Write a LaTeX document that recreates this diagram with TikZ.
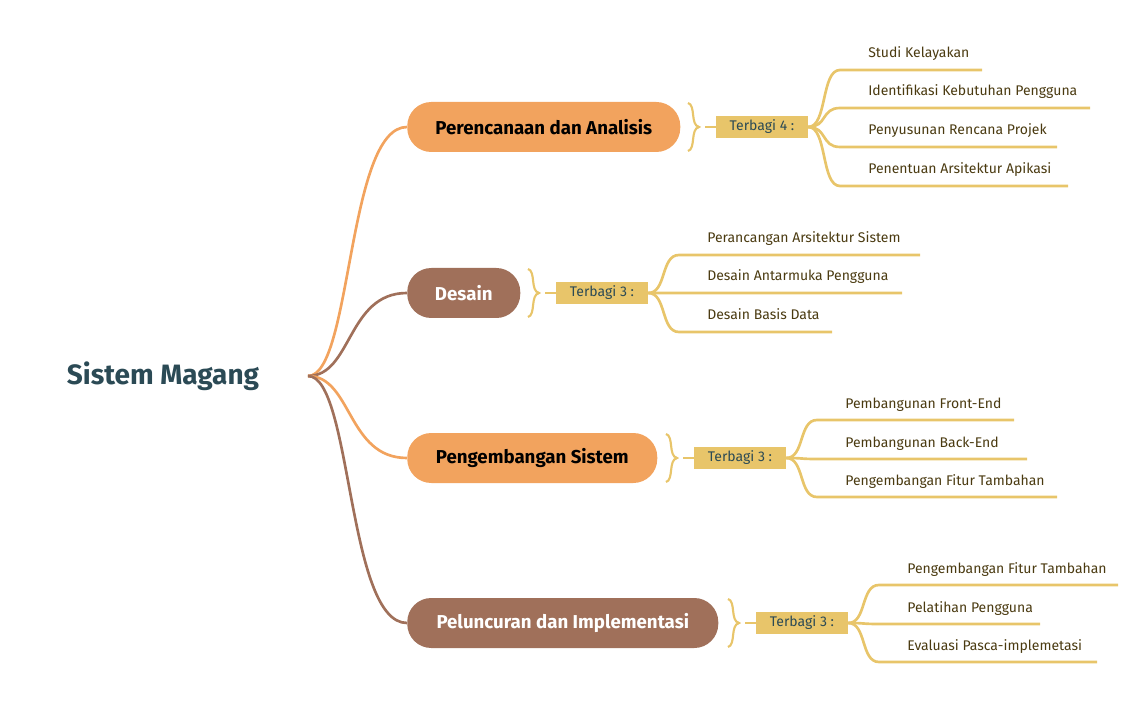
\documentclass[tikz,border=0pt]{standalone}
\usepackage{fontspec}
\setmainfont{Fira Sans}
\usetikzlibrary{calc}
\definecolor{org}{HTML}{F2A35E}
\definecolor{brn}{HTML}{A0705A}
\definecolor{yel}{HTML}{E8C56A}
\definecolor{teal}{HTML}{2B4A55}
\definecolor{leaf}{HTML}{4A3A10}
\begin{document}
\begin{tikzpicture}[x=0.75pt,y=-0.75pt,
 main/.style={rectangle,rounded corners=18pt,minimum height=37.5pt,anchor=west,align=left,font=\bfseries\fontsize{14}{16}\selectfont},
 lab/.style={fill=yel,minimum width=69pt,minimum height=16.5pt,inner sep=0pt,text=teal,font=\fontsize{10.5}{12}\selectfont},
 leaftxt/.style={anchor=base west,text=leaf,inner sep=0pt,font=\fontsize{10.5}{12}\selectfont},
 lk/.style={draw=yel,line width=2pt},
 br/.style={line width=1.6pt}]
\useasboundingbox (0,0) rectangle (1135,702);
\node[text=teal,font=\bfseries\fontsize{21}{24}\selectfont] (root) at (163,376) {Sistem Magang};
\coordinate (r) at (308,376);
\node[main,fill=org,text=black,minimum width=204.75pt] (n1) at (407,127) {Perencanaan dan Analisis};
\node[main,fill=brn,text=white,minimum width=84.75pt] (n2) at (407,293) {Desain};
\node[main,fill=org,text=black,minimum width=187.5pt] (n3) at (407,458) {Pengembangan Sistem};
\node[main,fill=brn,text=white,minimum width=233.25pt] (n4) at (407,623) {Peluncuran dan Implementasi};
\foreach \n/\c in {n1/org,n2/brn,n3/org,n4/brn}
 \draw[\c,line width=2pt] (r) .. controls (352,376) and ([xshift=-45pt]\n.west) .. (\n.west);
\foreach \n/\bx/\lx/\y/\name/\k in {n1/688/762/127/a/4,n2/528/602/293/b/3,n3/666/740/458/c/3,n4/728/802/623/d/3}{
 \coordinate (\name t) at (\bx,\y-24);
 \coordinate (\name m) at (\bx+11,\y);
 \coordinate (\name b) at (\bx,\y+24);
 \draw[yel,br] (\name t) .. controls (\bx+8,\y-22) and (\bx+2,\y-2) .. (\name m) .. controls (\bx+2,\y+2) and (\bx+8,\y+22) .. (\name b);
 \node[lab] (\name L) at (\lx,\y) {Terbagi \k\ :};
 \coordinate (\name s) at (\bx+17,\y);
 \draw[lk] (\name s) -- (\name L.west);
}
\newcommand{\leafat}[5]{%
 \node[leaftxt] (#1x) at (#2+28,#3-12) {#5};
 \coordinate (#1e) at (#4,#3);
 \coordinate (#1k) at (#2,#3);
}
\leafat{a1}{840}{70}{982}{Studi Kelayakan}
\leafat{a2}{840}{108}{1090}{Identifikasi Kebutuhan Pengguna}
\leafat{a3}{840}{147}{1057}{Penyusunan Rencana Projek}
\leafat{a4}{840}{186}{1068}{Penentuan Arsitektur Apikasi}
\leafat{b1}{679}{255}{920}{Perancangan Arsitektur Sistem}
\leafat{b2}{679}{293}{902}{Desain Antarmuka Pengguna}
\leafat{b3}{679}{332}{832}{Desain Basis Data}
\leafat{c1}{817}{420}{1014}{Pembangunan Front-End}
\leafat{c2}{817}{459}{1027}{Pembangunan Back-End}
\leafat{c3}{817}{497}{1057}{Pengembangan Fitur Tambahan}
\leafat{d1}{879}{585}{1118}{Pengembangan Fitur Tambahan}
\leafat{d2}{879}{624}{1040}{Pelatihan Pengguna}
\leafat{d3}{879}{662}{1097}{Evaluasi Pasca-implemetasi}
\foreach \g/\l in {a/a1,a/a2,a/a3,a/a4,b/b1,b/b2,b/b3,c/c1,c/c2,c/c3,d/d1,d/d2,d/d3}
 \draw[lk] (\g L.east) .. controls ($(\g L.east)!0.6!(\g L.east-|\l k)$) and ($(\l k)!0.6!(\l k-|\g L.east)$) .. (\l k) -- (\l e);
\end{tikzpicture}
\end{document}
